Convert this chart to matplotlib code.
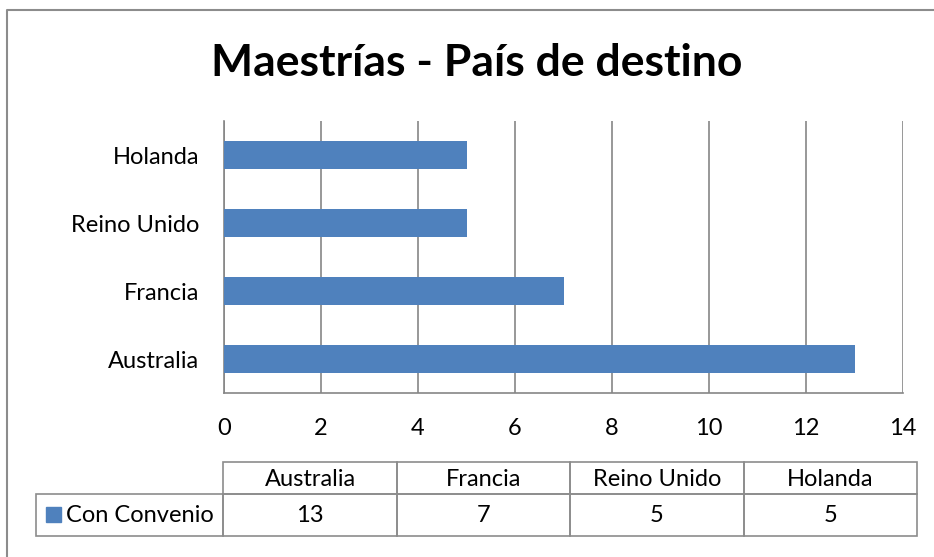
import matplotlib
matplotlib.use("Agg")
import matplotlib.pyplot as plt
from matplotlib.patches import Rectangle
from matplotlib.lines import Line2D

categories = ["Australia", "Francia", "Reino Unido", "Holanda"]
values = [13, 7, 5, 5]
series_name = "Con Convenio"
title = "Maestrías - País de destino"
xticks = [0, 2, 4, 6, 8, 10, 12, 14]

W, H = 934, 557
FONT = "Lato"
BAR = "#4F81BD"
GRID = "#868686"
FS = 17

fig = plt.figure(figsize=(W / 100, H / 100), dpi=100)
fig.patch.set_facecolor("white")


def fx(px):
    return px / W


def fy(py):
    return 1 - py / H


# outer chart border (left and top visible)
fig.add_artist(Line2D([fx(7), fx(7), fx(W)], [fy(H), fy(10), fy(10)],
                      transform=fig.transFigure, color="#8C8C8C", lw=1.5))

fig.text(fx(477), fy(63), title, ha="center", va="center",
         fontsize=32, fontweight="bold", family=FONT)

left, right, top, bottom = 224, 903, 121, 393
ax = fig.add_axes([fx(left), fy(bottom), fx(right - left), (bottom - top) / H])
ypos = list(range(len(categories)))
ax.barh(ypos, values, height=0.4, color=BAR, zorder=3)
ax.set_xlim(0, 14)
ax.set_ylim(-0.5, len(categories) - 0.5)
ax.set_xticks(xticks)
ax.set_xticklabels([str(t) for t in xticks], family=FONT, fontsize=FS)
ax.set_yticks(ypos)
ax.set_yticklabels(categories, family=FONT, fontsize=FS)
ax.tick_params(axis="both", length=0)
ax.tick_params(axis="x", pad=18)
ax.tick_params(axis="y", pad=18)
ax.grid(axis="x", color=GRID, lw=1.2, zorder=0)
for s in ["top", "right"]:
    ax.spines[s].set_visible(False)
ax.spines["left"].set_color(GRID)
ax.spines["bottom"].set_color(GRID)
ax.spines["left"].set_linewidth(1.2)
ax.spines["bottom"].set_linewidth(1.2)

# data table
cols = [223, 397, 570, 744, 917]
r0, r1, r2 = 462, 494, 536
legend_left = 36
lc = "#8C8C8C"
lw = 1.2
for i, cat in enumerate(categories):
    fig.add_artist(Rectangle((fx(cols[i]), fy(r1)), fx(cols[i + 1] - cols[i]), (r1 - r0) / H,
                             transform=fig.transFigure, fill=False, ec=lc, lw=lw))
    fig.add_artist(Rectangle((fx(cols[i]), fy(r2)), fx(cols[i + 1] - cols[i]), (r2 - r1) / H,
                             transform=fig.transFigure, fill=False, ec=lc, lw=lw))
    cx = (cols[i] + cols[i + 1]) / 2
    fig.text(fx(cx), fy((r0 + r1) / 2 + 1), cat, ha="center", va="center",
             family=FONT, fontsize=FS)
    fig.text(fx(cx), fy((r1 + r2) / 2), str(values[i]), ha="center", va="center",
             family=FONT, fontsize=FS)
fig.add_artist(Rectangle((fx(legend_left), fy(r2)), fx(cols[0] - legend_left), (r2 - r1) / H,
                         transform=fig.transFigure, fill=False, ec=lc, lw=lw))
fig.add_artist(Rectangle((fx(46), fy(522)), fx(15), 15 / H,
                         transform=fig.transFigure, color=BAR))
fig.text(fx(66), fy((r1 + r2) / 2), series_name, ha="left", va="center",
         family=FONT, fontsize=FS)

fig.savefig("out.png", dpi=100, facecolor="white")
